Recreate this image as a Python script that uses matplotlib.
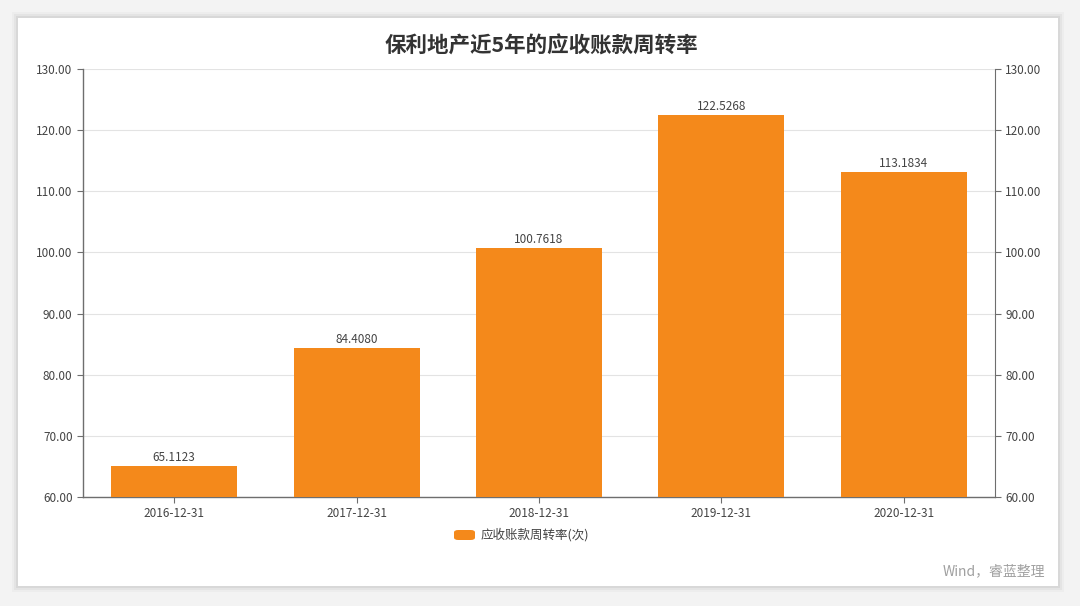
import matplotlib
matplotlib.use('agg')

import numpy as np
import matplotlib.pyplot as plt
from matplotlib.patches import Rectangle, FancyBboxPatch

plt.rcParams['font.family'] = ['Noto Sans CJK SC', 'DejaVu Sans']

# data
years = ['2016-12-31', '2017-12-31', '2018-12-31', '2019-12-31', '2020-12-31']
turnover = [65.1123, 84.4080, 100.7618, 122.5268, 113.1834]
yticks = [60, 70, 80, 90, 100, 110, 120, 130]

W, H = 1080, 606
fig = plt.figure(figsize=(W / 100, H / 100), dpi=100, facecolor='#f3f3f3')

# soft shadow + white card (kept behind the axes)
for i, a in enumerate([0.025, 0.035, 0.05]):
    d = 6 - 2 * i
    fig.patches.append(Rectangle(((18 - d) / W, 1 - (586 + d) / H),
                                 (1040 + 2 * d) / W, (568 + 2 * d) / H,
                                 transform=fig.transFigure, facecolor='#000000',
                                 alpha=a, edgecolor='none', zorder=-5))
fig.patches.append(Rectangle((18 / W, 1 - 586 / H), 1040 / W, 568 / H,
                             transform=fig.transFigure, facecolor='white',
                             edgecolor='none', zorder=-1))

ax = fig.add_axes([83 / W, 1 - 497 / H, 912 / W, 428 / H])
ax.set_facecolor('none')
x = np.arange(len(years))
bars = ax.bar(x, turnover, width=0.69, color='#f4891b', zorder=3)

ax.set_xlim(-0.5, len(years) - 0.5)
ax.set_ylim(60, 130)
ax.set_yticks(yticks)
ax.set_yticklabels(['%.2f' % v for v in yticks])
ax.set_xticks(x)
ax.set_xticklabels(years)
ax.yaxis.grid(True, color='#e3e3e3', linewidth=0.8, zorder=0)
ax.set_axisbelow(True)

ax.spines['top'].set_visible(False)
ax.spines['right'].set_visible(False)
for s in ['left', 'bottom']:
    ax.spines[s].set_color('#6e6e6e')
    ax.spines[s].set_linewidth(1.0)
ax.tick_params(axis='both', colors='#6e6e6e', labelcolor='#444444',
               labelsize=8.5, length=4, width=0.8)

for xi, v in zip(x, turnover):
    ax.text(xi, v + 0.25, '%.4f' % v, ha='center', va='bottom',
            fontsize=8.5, color='#444444', zorder=4)

ax2 = ax.twinx()
ax2.set_ylim(60, 130)
ax2.set_yticks(yticks)
ax2.set_yticklabels(['%.2f' % v for v in yticks])
for s in ['top', 'left', 'bottom']:
    ax2.spines[s].set_visible(False)
ax2.spines['right'].set_color('#6e6e6e')
ax2.tick_params(axis='y', colors='#6e6e6e', labelcolor='#444444',
                labelsize=8.5, length=4, width=0.8)

fig.text(541 / W, 1 - 46 / H, '保利地产近5年的应收账款周转率', ha='center',
         va='center', fontsize=15.5, fontweight='bold', color='#333333', zorder=5)

# legend
fig.patches.append(FancyBboxPatch((454 / W, 1 - 540 / H), 21 / W, 10 / H,
                                  boxstyle='round,pad=0,rounding_size=0.004',
                                  transform=fig.transFigure, facecolor='#f4891b',
                                  edgecolor='none', zorder=5))
fig.text(481 / W, 1 - 535 / H, '应收账款周转率(次)', ha='left', va='center',
         fontsize=9, color='#444444', zorder=5)

fig.text(1045 / W, 1 - 571 / H, 'Wind，睿蓝整理', ha='right', va='center',
         fontsize=10, color='#a0a0a0', zorder=5)

fig.savefig('out.png', dpi=100, facecolor=fig.get_facecolor())
